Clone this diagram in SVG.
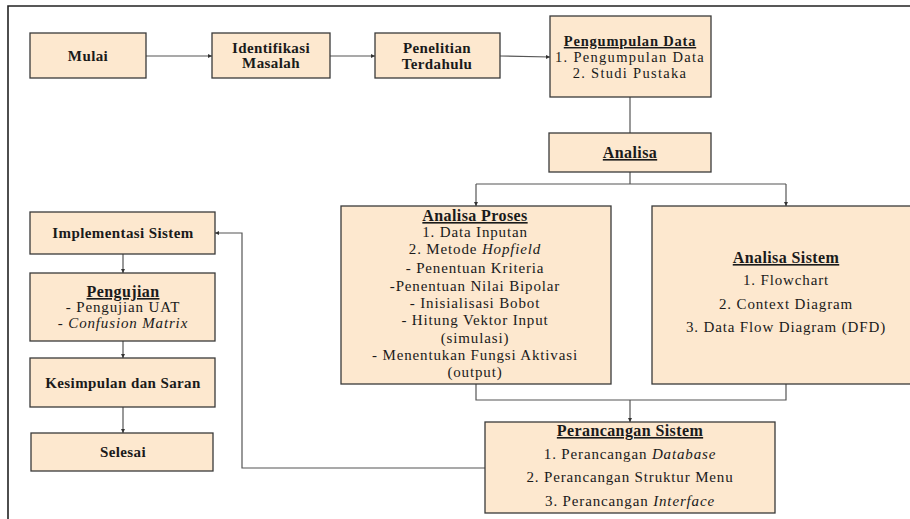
<svg xmlns="http://www.w3.org/2000/svg" width="910" height="519" viewBox="0 0 910 519">
<defs>
<style>
.box{fill:#FDE8CF;stroke:#3a3a3a;stroke-width:1.3}
.ln{fill:none;stroke:#555;stroke-width:1.2}
.t{font-family:"Liberation Serif","Times New Roman",serif;fill:#1a1a1a;text-anchor:middle}
.b{font-weight:bold;font-size:15px;letter-spacing:0.4px}
.n{font-size:15px;letter-spacing:0.85px}
.u{font-weight:bold;font-size:16px;letter-spacing:0.4px;text-decoration:underline}
.i{font-style:italic}
.pt{font-weight:bold;font-size:14.5px;letter-spacing:0.8px;text-decoration:underline}
.pn{font-size:14.5px;letter-spacing:1.3px}
</style>
<marker id="ah" markerWidth="4" markerHeight="4" refX="4" refY="2" orient="auto" markerUnits="userSpaceOnUse">
<path d="M0,0 L4,2 L0,4 Z" fill="#333"/>
</marker>
</defs>
<rect width="910" height="519" fill="#fff"/>
<path d="M8,519 V6 H910" fill="none" stroke="#222" stroke-width="1.6"/>

<g id="connectors">
<path class="ln" d="M146,56 H212" marker-end="url(#ah)"/>
<path class="ln" d="M330,56 H375" marker-end="url(#ah)"/>
<path class="ln" d="M500,56 L550,57" marker-end="url(#ah)"/>
<path class="ln" d="M630,97 V133"/>
<path class="ln" d="M630,172 V184 M476,184 H786"/>
<path class="ln" d="M476,184 V206" marker-end="url(#ah)"/>
<path class="ln" d="M786,184 V206" marker-end="url(#ah)"/>
<path class="ln" d="M476,384 V400 H786 V384"/>
<path class="ln" d="M630,400 V422" marker-end="url(#ah)"/>
<path class="ln" d="M123,254 V273" marker-end="url(#ah)"/>
<path class="ln" d="M123,341 V358" marker-end="url(#ah)"/>
<path class="ln" d="M123,407 V433" marker-end="url(#ah)"/>
<path class="ln" d="M485,468 H242 V233 H215" marker-end="url(#ah)"/>
</g>

<g id="mulai">
<rect class="box" x="30" y="33" width="116" height="45"/>
<text class="t b" x="88" y="61">Mulai</text>
</g>
<g id="identifikasi">
<rect class="box" x="212" y="33" width="118" height="45"/>
<text class="t b" x="271" y="53">Identifikasi</text>
<text class="t b" x="271" y="68">Masalah</text>
</g>
<g id="penelitian">
<rect class="box" x="375" y="33" width="125" height="45"/>
<text class="t b" x="437" y="53">Penelitian</text>
<text class="t b" x="437" y="69">Terdahulu</text>
</g>
<g id="pengumpulan">
<rect class="box" x="550" y="16" width="161" height="81"/>
<text class="t pt" x="630" y="46">Pengumpulan Data</text>
<text class="t pn" x="630" y="62">1. Pengumpulan Data</text>
<text class="t pn" x="630" y="78">2. Studi Pustaka</text>
</g>
<g id="analisa">
<rect class="box" x="549" y="133" width="162" height="39"/>
<text class="t u" x="630" y="158">Analisa</text>
</g>
<g id="analisa-proses">
<rect class="box" x="341" y="206" width="270" height="178"/>
<text class="t u" x="475" y="221">Analisa Proses</text>
<text class="t n" x="475" y="237">1. Data Inputan</text>
<text class="t n" x="475" y="254">2. Metode <tspan class="i">Hopfield</tspan></text>
<text class="t n" x="475" y="273">- Penentuan Kriteria</text>
<text class="t n" x="475" y="291">-Penentuan Nilai Bipolar</text>
<text class="t n" x="475" y="308">- Inisialisasi Bobot</text>
<text class="t n" x="475" y="325">- Hitung Vektor Input</text>
<text class="t n" x="475" y="343">(simulasi)</text>
<text class="t n" x="475" y="360">- Menentukan Fungsi Aktivasi</text>
<text class="t n" x="475" y="377">(output)</text>
</g>
<g id="analisa-sistem">
<rect class="box" x="652" y="206" width="262" height="178"/>
<text class="t u" x="786" y="263">Analisa Sistem</text>
<text class="t n" x="786" y="285">1. Flowchart</text>
<text class="t n" x="786" y="309">2. Context Diagram</text>
<text class="t n" x="786" y="332">3. Data Flow Diagram (DFD)</text>
</g>
<g id="perancangan">
<rect class="box" x="485" y="422" width="290" height="91"/>
<text class="t u" x="630" y="436">Perancangan Sistem</text>
<text class="t n" x="630" y="459">1. Perancangan <tspan class="i">Database</tspan></text>
<text class="t n" x="630" y="482">2. Perancangan Struktur Menu</text>
<text class="t n" x="630" y="506">3. Perancangan <tspan class="i">Interface</tspan></text>
</g>
<g id="implementasi">
<rect class="box" x="30" y="212" width="185" height="42"/>
<text class="t b" x="123" y="238">Implementasi Sistem</text>
</g>
<g id="pengujian">
<rect class="box" x="30" y="273" width="185" height="68"/>
<text class="t u" x="123" y="297">Pengujian</text>
<text class="t n" x="123" y="312">- Pengujian UAT</text>
<text class="t n" x="123" y="328">- <tspan class="i">Confusion Matrix</tspan></text>
</g>
<g id="kesimpulan">
<rect class="box" x="30" y="358" width="185" height="49"/>
<text class="t b" x="123" y="388">Kesimpulan dan Saran</text>
</g>
<g id="selesai">
<rect class="box" x="31" y="433" width="182" height="38"/>
<text class="t b" x="123" y="457">Selesai</text>
</g>
</svg>
